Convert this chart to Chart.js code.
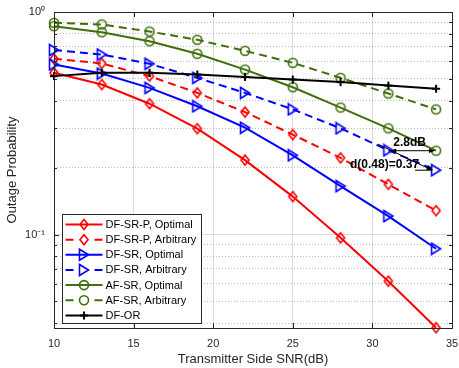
<!DOCTYPE html>
<html>
<head>
<meta charset="utf-8">
<script src="https://cdn.jsdelivr.net/npm/chart.js@4/dist/chart.umd.min.js"></script>
<style>
  html, body { margin: 0; padding: 0; background: #fff; }
  #wrap { width: 459px; height: 368px; }
</style>
</head>
<body>
<div id="wrap"><canvas id="chart" width="459" height="368"></canvas></div>
<script>
// Outage probability vs transmitter side SNR

// data
const snr = [10, 13, 16, 19, 22, 25, 28, 31, 34];
const dfsrpOptimal   = [0.533, 0.472, 0.387, 0.299, 0.216, 0.148, 0.0966, 0.0617, 0.0381];
const dfsrpArbitrary = [0.616, 0.587, 0.515, 0.433, 0.355, 0.281, 0.221, 0.168, 0.128];
const dfsrOptimal    = [0.581, 0.529, 0.456, 0.377, 0.302, 0.227, 0.165, 0.121, 0.0863];
const dfsrArbitrary  = [0.674, 0.644, 0.585, 0.506, 0.433, 0.365, 0.300, 0.239, 0.1945];
const afsrOptimal    = [0.863, 0.811, 0.739, 0.649, 0.551, 0.459, 0.372, 0.300, 0.238];
const afsrArbitrary  = [0.894, 0.879, 0.817, 0.750, 0.669, 0.591, 0.506, 0.430, 0.365];
const dfor           = [0.515, 0.533, 0.533, 0.524, 0.511, 0.497, 0.484, 0.467, 0.452];

const xTicks = [10, 15, 20, 25, 30, 35];
const yTicks = [0.04, 0.05, 0.06, 0.07, 0.08, 0.09, 0.1, 0.2, 0.3, 0.4, 0.5, 0.6, 0.7, 0.8, 0.9, 1];
const yTickLabels = { 1: '10\u2070', 0.1: '10\u207B\u00B9' };

const FONT = 'Liberation Sans, Arial, Helvetica, sans-serif';
const INK = '#262626';
const GREEN = '#3f6e0a';
const DASH = [8, 5];

Chart.defaults.font.family = FONT;
Chart.defaults.color = INK;

// open MATLAB-like markers drawn on small canvases
function drawMarkerShape(ctx, kind, cx, cy) {
    ctx.beginPath();
    if (kind === 'diamond') {
        ctx.moveTo(cx, cy - 5);
        ctx.lineTo(cx + 4, cy);
        ctx.lineTo(cx, cy + 5);
        ctx.lineTo(cx - 4, cy);
        ctx.closePath();
    } else if (kind === 'triangle') {
        ctx.moveTo(cx - 4.5, cy - 5.5);
        ctx.lineTo(cx + 4.5, cy);
        ctx.lineTo(cx - 4.5, cy + 5.5);
        ctx.closePath();
    } else if (kind === 'circle') {
        ctx.arc(cx, cy, 4.5, 0, Math.PI * 2);
    } else if (kind === 'plus') {
        ctx.moveTo(cx - 4, cy);
        ctx.lineTo(cx + 4, cy);
        ctx.moveTo(cx, cy - 4);
        ctx.lineTo(cx, cy + 4);
    }
    ctx.stroke();
}

function makeMarker(kind, color) {
    const c = document.createElement('canvas');
    c.width = 14;
    c.height = 14;
    const ctx = c.getContext('2d');
    ctx.strokeStyle = color;
    ctx.lineWidth = kind === 'plus' ? 2 : 1.6;
    drawMarkerShape(ctx, kind, 7, 7);
    return c;
}

const series = [
    { label: 'DF-SR-P, Optimal',   data: dfsrpOptimal,   color: '#ff0000', dashed: false, marker: 'diamond' },
    { label: 'DF-SR-P, Arbitrary', data: dfsrpArbitrary, color: '#ff0000', dashed: true,  marker: 'diamond' },
    { label: 'DF-SR, Optimal',     data: dfsrOptimal,    color: '#0000ff', dashed: false, marker: 'triangle' },
    { label: 'DF-SR, Arbitrary',   data: dfsrArbitrary,  color: '#0000ff', dashed: true,  marker: 'triangle' },
    { label: 'AF-SR, Optimal',     data: afsrOptimal,    color: GREEN,     dashed: false, marker: 'circle' },
    { label: 'AF-SR, Arbitrary',   data: afsrArbitrary,  color: GREEN,     dashed: true,  marker: 'circle' },
    { label: 'DF-OR',              data: dfor,           color: '#000000', dashed: false, marker: 'plus' }
];

const datasets = series.map((s, i) => ({
    label: s.label,
    data: snr.map((x, k) => ({ x: x, y: s.data[k] })),
    borderColor: s.color,
    backgroundColor: s.color,
    borderWidth: 2,
    borderDash: s.dashed ? DASH : [],
    pointStyle: makeMarker(s.marker, s.color),
    pointRadius: 5,
    tension: 0,
    fill: false,
    clip: false,
    order: series.length - i,
    _marker: s.marker,
    _dashed: s.dashed
}));

function isDecade(v) {
    return v === 1 || v === 0.1;
}

function arrowHead(ctx, x1, y1, x2, y2, size) {
    const a = Math.atan2(y2 - y1, x2 - x1);
    ctx.beginPath();
    ctx.moveTo(x2, y2);
    ctx.lineTo(x2 - size * Math.cos(a - 0.38), y2 - size * Math.sin(a - 0.38));
    ctx.lineTo(x2 - size * Math.cos(a + 0.38), y2 - size * Math.sin(a + 0.38));
    ctx.closePath();
    ctx.fill();
}

// axis box, inward ticks, annotations and the legend
const matlabLook = {
    id: 'matlabLook',
    afterDatasetsDraw(chart) {
        const ctx = chart.ctx;
        const a = chart.chartArea;
        const xs = chart.scales.x;
        const ys = chart.scales.y;

        ctx.save();
        // inward ticks
        ctx.strokeStyle = INK;
        ctx.lineWidth = 1;
        ctx.beginPath();
        xTicks.forEach(v => {
            const px = Math.round(xs.getPixelForValue(v)) + 0.5;
            ctx.moveTo(px, a.bottom);
            ctx.lineTo(px, a.bottom - 5);
            ctx.moveTo(px, a.top);
            ctx.lineTo(px, a.top + 5);
        });
        yTicks.forEach(v => {
            const py = Math.round(ys.getPixelForValue(v)) + 0.5;
            const len = isDecade(v) ? 5 : 3;
            ctx.moveTo(a.left, py);
            ctx.lineTo(a.left + len, py);
            ctx.moveTo(a.right, py);
            ctx.lineTo(a.right - len, py);
        });
        ctx.stroke();

        // box
        ctx.strokeRect(Math.round(a.left) + 0.5, Math.round(a.top) + 0.5,
            Math.round(a.right - a.left), Math.round(a.bottom - a.top));

        // 2.8dB double arrow
        ctx.strokeStyle = '#000';
        ctx.fillStyle = '#000';
        ctx.lineWidth = 1;
        const ay = ys.getPixelForValue(afsrOptimal[8]);
        const ax1 = xs.getPixelForValue(31.15);
        const ax2 = xs.getPixelForValue(33.9);
        ctx.beginPath();
        ctx.moveTo(ax1, ay);
        ctx.lineTo(ax2, ay);
        ctx.stroke();
        arrowHead(ctx, ax2, ay, ax1, ay, 6);
        arrowHead(ctx, ax1, ay, ax2, ay, 6);
        ctx.font = 'bold 12px ' + FONT;
        ctx.textAlign = 'center';
        ctx.textBaseline = 'middle';
        ctx.fillText('2.8dB', (ax1 + ax2) / 2 - 3, ay - 8);

        // d(0.48)=0.37 text arrow to the last DF-SR arbitrary point
        const px = xs.getPixelForValue(snr[8]);
        const py = ys.getPixelForValue(dfsrArbitrary[8]);
        ctx.beginPath();
        ctx.moveTo(px - 58, py - 26);
        ctx.lineTo(px - 4, py);
        ctx.moveTo(px - 21, py);
        ctx.lineTo(px - 4, py);
        ctx.stroke();
        arrowHead(ctx, px - 58, py - 26, px - 3, py, 7);
        ctx.textAlign = 'right';
        ctx.fillText('d(0.48)=0.37', px - 17, py - 6);

        // legend
        ctx.font = '11px ' + FONT;
        const rowH = 15.15;
        let textW = 0;
        datasets.forEach(d => { textW = Math.max(textW, ctx.measureText(d.label).width); });
        const bx = Math.round(a.left + 8) + 0.5;
        const bw = Math.round(43 + textW + 5);
        const bh = Math.round(rowH * datasets.length + 3);
        const by = Math.round(a.bottom - 5 - bh) + 0.5;
        ctx.fillStyle = '#fff';
        ctx.fillRect(bx, by, bw, bh);
        ctx.strokeStyle = INK;
        ctx.lineWidth = 1;
        ctx.strokeRect(bx, by, bw, bh);

        datasets.forEach((d, i) => {
            const cy = by + 10 + i * rowH;
            const x0 = bx + 3;
            const x1 = bx + 40;
            const cx = (x0 + x1) / 2;
            ctx.strokeStyle = d.borderColor;
            ctx.lineWidth = 2;
            ctx.beginPath();
            if (d._dashed) {
                ctx.moveTo(x0, cy);
                ctx.lineTo(x0 + 8, cy);
                ctx.moveTo(x1 - 8, cy);
                ctx.lineTo(x1, cy);
            } else {
                ctx.moveTo(x0, cy);
                ctx.lineTo(x1, cy);
            }
            ctx.stroke();
            ctx.lineWidth = d._marker === 'plus' ? 2 : 1.6;
            drawMarkerShape(ctx, d._marker, cx, cy);
            ctx.fillStyle = '#000';
            ctx.textAlign = 'left';
            ctx.textBaseline = 'middle';
            ctx.fillText(d.label, bx + 43, cy + 0.5);
        });
        ctx.restore();
    }
};

new Chart(document.getElementById('chart'), {
    type: 'line',
    data: { datasets: datasets },
    options: {
        responsive: false,
        animation: false,
        events: [],
        layout: { padding: { top: 12, right: 6, left: 0, bottom: 0 } },
        plugins: {
            legend: { display: false },
            tooltip: { enabled: false }
        },
        scales: {
            x: {
                type: 'linear',
                min: 10,
                max: 35,
                afterBuildTicks: s => { s.ticks = xTicks.map(v => ({ value: v })); },
                afterFit: s => { s.height = 40; s.paddingLeft = 0; s.paddingRight = 0; },
                grid: { color: '#dcdcdc', lineWidth: 1, drawTicks: false },
                border: { display: false },
                ticks: {
                    padding: 9,
                    color: INK,
                    font: { size: 11 },
                    maxRotation: 0,
                    autoSkip: false
                },
                title: {
                    display: true,
                    text: 'Transmitter Side SNR(dB)',
                    color: INK,
                    font: { size: 13 },
                    padding: { top: 0, bottom: 1 }
                }
            },
            y: {
                type: 'logarithmic',
                min: 0.038,
                max: 1,
                afterBuildTicks: s => { s.ticks = yTicks.map(v => ({ value: v })); },
                afterFit: s => { s.width = 54; s.paddingTop = 0; s.paddingBottom = 0; },
                grid: {
                    color: c => (c.tick && !isDecade(c.tick.value)) ? 'rgba(0,0,0,0.26)' : '#dcdcdc',
                    lineWidth: 1,
                    drawTicks: false
                },
                border: {
                    display: false,
                    dash: c => (c.tick && !isDecade(c.tick.value)) ? [1, 2] : []
                },
                ticks: {
                    padding: 9,
                    color: INK,
                    font: { size: 11 },
                    autoSkip: false,
                    callback: v => yTickLabels[v] || ''
                },
                title: {
                    display: true,
                    text: 'Outage Probability',
                    color: INK,
                    font: { size: 13 },
                    padding: { top: 5, bottom: 0 }
                }
            }
        }
    },
    plugins: [matlabLook]
});
</script>
</body>
</html>
